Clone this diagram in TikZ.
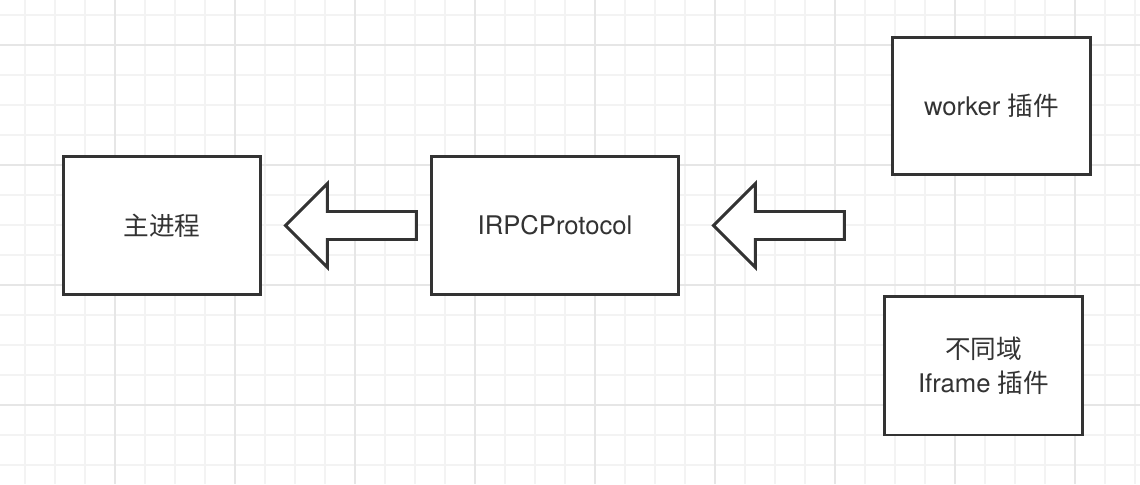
\documentclass[tikz,border=0pt]{standalone}
\usepackage{fontspec}
\setmainfont{TeX Gyre Heros}
\newfontfamily\cjk{Noto Sans CJK SC}
\definecolor{ink}{HTML}{333333}
\definecolor{gridminor}{HTML}{F3F3F3}
\definecolor{gridmajor}{HTML}{E6E6E6}
\usetikzlibrary{calc}

\begin{document}
\begin{tikzpicture}[x=0.02cm,y=-0.02cm,
        box/.style={draw=ink,line width=1.7pt,fill=white,text=ink,align=center,
                    font=\fontsize{14.6}{19.5}\selectfont,inner sep=0pt},
        fatarrow/.style={draw=ink,line width=1.7pt,fill=white}]
                \useasboundingbox (0,0) rectangle (1140,484);
                % background grid
                \foreach \gx in {25,55,...,1135}
                    \draw[gridminor,line width=0.9pt] (\gx,0) -- (\gx,484);
                \foreach \gy in {15,45,...,475}
                    \draw[gridminor,line width=0.9pt] (0,\gy) -- (1140,\gy);
                \foreach \gx in {115,235,...,1135}
                    \draw[gridmajor,line width=0.9pt] (\gx,0) -- (\gx,484);
                \foreach \gy in {45,165,...,475}
                    \draw[gridmajor,line width=0.9pt] (0,\gy) -- (1140,\gy);

                \node[box,minimum width=3.94cm,minimum height=2.76cm] (main) at (162,225.5) {\cjk 主进程};
                \node[box,minimum width=4.94cm,minimum height=2.76cm] (proto) at (555,225.5) {IRPCProtocol};
                \node[box,minimum width=3.96cm,minimum height=2.74cm] (worker) at (991.5,106) {worker {\cjk 插件}};
                \node[box,minimum width=3.96cm,minimum height=2.78cm] (iframe) at (983.5,365.5) {{\cjk 不同域}\\Iframe {\cjk 插件}};

                \draw[fatarrow] ($(main.east)+(23.5,0)$) -- ++(42,-42) -- ++(0,28) -- ++(89,0)
                    -- ++(0,28) -- ++(-89,0) -- ++(0,28) -- cycle;
                \draw[fatarrow] ($(proto.east)+(33.5,0)$) -- ++(42,-42) -- ++(0,28) -- ++(89,0)
                    -- ++(0,28) -- ++(-89,0) -- ++(0,28) -- cycle;
\end{tikzpicture}
\end{document}
